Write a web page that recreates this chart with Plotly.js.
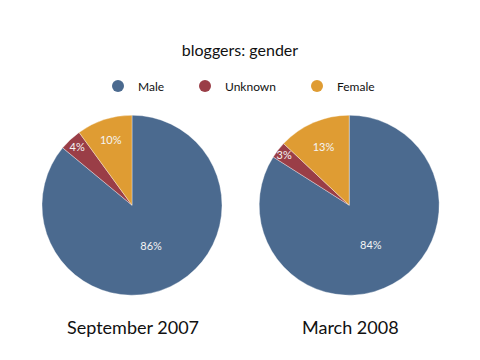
<!DOCTYPE html>
<html>
<head>
<meta charset="utf-8">
<script src="https://cdn.plot.ly/plotly-3.0.1.min.js"></script>
<style>html,body{margin:0;padding:0;background:#fff;}#chart{width:480px;height:360px;}</style>
</head>
<body>
<div id="chart"></div>
<script>
var categories = ["Male", "Unknown", "Female"];
var sept2007 = [86, 4, 10];
var march2008 = [84, 3, 13];
var periodLabels = ["September 2007", "March 2008"];
var chartTitle = "bloggers: gender";
var colors = ["#4b6a8f", "#9a3e47", "#df9c33"];

var FONT = "Lato, 'Open Sans', sans-serif";

function pieTrace(values, dom) {
  return {
    type: "pie",
    labels: categories,
    values: values,
    sort: false,
    direction: "clockwise",
    rotation: 0,
    domain: dom,
    marker: { colors: colors, line: { color: "rgba(255,255,255,0.35)", width: 1 } },
    texttemplate: "%{value}%",
    textposition: "inside",
    insidetextorientation: "horizontal",
    textfont: { family: FONT, size: 11, color: "#f4f4f4" },
    hoverinfo: "label+percent",
    showlegend: false
  };
}

var traces = [
  pieTrace(sept2007, { x: [0.0875, 0.4625], y: [0.18, 0.68] }),
  pieTrace(march2008, { x: [0.54, 0.915], y: [0.18, 0.68] })
];

var legendIds = ["legend", "legend2", "legend3"];
categories.forEach(function (c, i) {
  traces.push({
    type: "scatter",
    mode: "markers",
    x: [null], y: [null],
    name: c,
    legend: legendIds[i],
    marker: { color: colors[i], size: 12, symbol: "circle" },
    showlegend: true,
    hoverinfo: "skip"
  });
});

var symbolX = [118, 205, 317];
function legendAt(px) {
  return {
    orientation: "h",
    x: (px - 20) / 480, xanchor: "left",
    y: 1 - 86 / 360, yanchor: "middle",
    font: { family: FONT, size: 12, color: "#111111" },
    itemwidth: 30,
    bgcolor: "rgba(0,0,0,0)"
  };
}

var layout = {
  width: 480, height: 360,
  margin: { l: 0, r: 0, t: 0, b: 0 },
  paper_bgcolor: "#ffffff",
  plot_bgcolor: "rgba(0,0,0,0)",
  font: { family: FONT, color: "#111111" },
  title: {
    text: chartTitle,
    x: 0.5, xanchor: "center",
    y: 1 - 50 / 360, yanchor: "middle",
    font: { family: FONT, size: 16, color: "#111111" }
  },
  xaxis: { visible: false, range: [0, 1] },
  yaxis: { visible: false, range: [0, 1] },
  showlegend: true,
  legend: legendAt(symbolX[0]),
  legend2: legendAt(symbolX[1]),
  legend3: legendAt(symbolX[2]),
  uniformtext: { mode: "show", minsize: 11 },
  annotations: [
    { text: periodLabels[0], x: 133 / 480, y: 1 - 327 / 360, xref: "paper", yref: "paper",
      showarrow: false, xanchor: "center", yanchor: "middle",
      font: { family: FONT, size: 18, color: "#111111" } },
    { text: periodLabels[1], x: 350 / 480, y: 1 - 327 / 360, xref: "paper", yref: "paper",
      showarrow: false, xanchor: "center", yanchor: "middle",
      font: { family: FONT, size: 18, color: "#111111" } }
  ]
};

Plotly.newPlot("chart", traces, layout, { displayModeBar: false, staticPlot: true });
</script>
</body>
</html>
